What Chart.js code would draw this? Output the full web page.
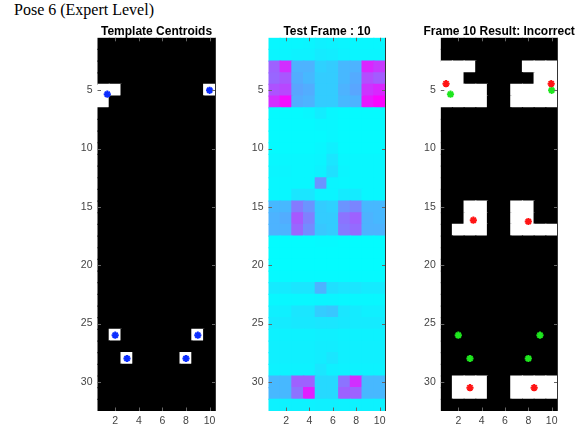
<!DOCTYPE html>
<html>
<head>
<meta charset="utf-8">
<script src="https://cdn.jsdelivr.net/npm/chart.js@4.4.1/dist/chart.umd.min.js"></script>
<style>
  body { margin: 0; background: #fff; width: 575px; height: 429px; position: relative; overflow: hidden; }
  #sup { position: absolute; left: 14px; top: 2px; font: 16px "Liberation Serif", "Times New Roman", serif; color: #000; white-space: nowrap; line-height: 16px; }
  canvas { position: absolute; top: 0; }
</style>
</head>
<body>
<div id="sup">Pose 6 (Expert Level)</div>
<canvas id="c1" width="160" height="429" style="left:62px"></canvas>
<canvas id="c2" width="160" height="429" style="left:233px"></canvas>
<canvas id="c3" width="170" height="429" style="left:405px"></canvas>
<script>
// grid is 32 rows x 10 columns
const colIndex = [1, 2, 3, 4, 5, 6, 7, 8, 9, 10];
const rowIndex = [1, 2, 3, 4, 5, 6, 7, 8, 9, 10, 11, 12, 13, 14, 15, 16,
                  17, 18, 19, 20, 21, 22, 23, 24, 25, 26, 27, 28, 29, 30, 31, 32];
const xTicks = [2, 4, 6, 8, 10];
const yTicks = [5, 10, 15, 20, 25, 30];

const titles = ["Template Centroids", "Test Frame : 10", "Frame 10 Result: Incorrect"];

// binary template image (1 = white)
const templateMask = [
  "0000000000", "0000000000", "0000000000", "0000000000", "1100000001",
  "1000000000", "0000000000", "0000000000", "0000000000", "0000000000",
  "0000000000", "0000000000", "0000000000", "0000000000", "0000000000",
  "0000000000", "0000000000", "0000000000", "0000000000", "0000000000",
  "0000000000", "0000000000", "0000000000", "0000000000", "0000000000",
  "0100000010", "0000000000", "0010000100", "0000000000", "0000000000",
  "0000000000", "0000000000"
];

// test frame intensities, 0 = cyan .. 1 = magenta (cool colormap)
const testFrame = [
  [0.03, 0.03, 0.03, 0.04, 0.06, 0.05, 0.04, 0.03, 0.03, 0.03],
  [0.04, 0.04, 0.05, 0.05, 0.08, 0.07, 0.05, 0.04, 0.04, 0.04],
  [0.62, 0.82, 0.30, 0.30, 0.18, 0.20, 0.28, 0.30, 0.85, 0.78],
  [0.60, 0.66, 0.32, 0.28, 0.20, 0.20, 0.28, 0.33, 0.70, 0.64],
  [0.68, 0.72, 0.35, 0.32, 0.20, 0.20, 0.30, 0.35, 0.80, 0.85],
  [0.82, 0.95, 0.32, 0.30, 0.20, 0.20, 0.28, 0.30, 0.90, 0.98],
  [0.02, 0.02, 0.02, 0.03, 0.07, 0.03, 0.02, 0.02, 0.02, 0.02],
  [0.02, 0.02, 0.02, 0.02, 0.03, 0.03, 0.02, 0.02, 0.02, 0.02],
  [0.02, 0.02, 0.02, 0.02, 0.02, 0.03, 0.02, 0.02, 0.02, 0.02],
  [0.02, 0.02, 0.02, 0.02, 0.03, 0.06, 0.02, 0.02, 0.02, 0.02],
  [0.03, 0.03, 0.03, 0.03, 0.04, 0.10, 0.03, 0.03, 0.03, 0.03],
  [0.04, 0.04, 0.03, 0.03, 0.05, 0.12, 0.04, 0.03, 0.03, 0.03],
  [0.03, 0.03, 0.03, 0.03, 0.42, 0.04, 0.03, 0.03, 0.03, 0.03],
  [0.03, 0.03, 0.10, 0.10, 0.04, 0.04, 0.08, 0.08, 0.03, 0.03],
  [0.28, 0.28, 0.52, 0.42, 0.20, 0.18, 0.42, 0.48, 0.28, 0.28],
  [0.30, 0.32, 0.65, 0.50, 0.20, 0.20, 0.55, 0.62, 0.30, 0.28],
  [0.30, 0.30, 0.60, 0.45, 0.22, 0.20, 0.52, 0.58, 0.30, 0.30],
  [0.01, 0.01, 0.01, 0.01, 0.02, 0.02, 0.01, 0.01, 0.01, 0.01],
  [0.01, 0.01, 0.01, 0.01, 0.01, 0.01, 0.01, 0.01, 0.01, 0.01],
  [0.01, 0.01, 0.01, 0.01, 0.01, 0.01, 0.01, 0.01, 0.01, 0.01],
  [0.02, 0.02, 0.02, 0.02, 0.02, 0.02, 0.02, 0.02, 0.02, 0.02],
  [0.08, 0.08, 0.10, 0.10, 0.30, 0.12, 0.10, 0.10, 0.08, 0.08],
  [0.03, 0.03, 0.03, 0.03, 0.04, 0.04, 0.03, 0.03, 0.03, 0.03],
  [0.06, 0.06, 0.10, 0.10, 0.20, 0.22, 0.10, 0.08, 0.06, 0.06],
  [0.08, 0.08, 0.09, 0.09, 0.10, 0.10, 0.09, 0.08, 0.08, 0.08],
  [0.05, 0.05, 0.05, 0.05, 0.06, 0.06, 0.05, 0.05, 0.05, 0.05],
  [0.06, 0.06, 0.06, 0.06, 0.07, 0.07, 0.06, 0.06, 0.06, 0.06],
  [0.06, 0.06, 0.06, 0.06, 0.07, 0.10, 0.06, 0.06, 0.06, 0.06],
  [0.05, 0.05, 0.05, 0.05, 0.10, 0.06, 0.05, 0.05, 0.05, 0.05],
  [0.28, 0.28, 0.62, 0.62, 0.15, 0.15, 0.55, 0.82, 0.28, 0.28],
  [0.28, 0.28, 0.55, 0.88, 0.15, 0.15, 0.62, 0.62, 0.28, 0.28],
  [0.05, 0.05, 0.05, 0.05, 0.06, 0.06, 0.05, 0.05, 0.05, 0.05]
];

// binary result image for frame 10
const resultMask = [
  "0000000000", "0000000000", "1110000111", "1100000011", "1111001111",
  "1111001111", "0000000000", "0000000000", "0000000000", "0000000000",
  "0000000000", "0000000000", "0000000000", "0000000000", "0011001100",
  "0011001100", "0111001111", "0000000000", "0000000000", "0000000000",
  "0000000000", "0000000000", "0000000000", "0000000000", "0000000000",
  "0000000000", "0000000000", "0000000000", "0000000000", "0111001111",
  "0111001111", "0000000000"
];

const templateCentroidX = [1.33, 10, 2, 3, 8, 9];
const templateCentroidY = [5.33, 5, 26, 28, 28, 26];
const frameCentroidX = [0.95, 9.96, 3.29, 8, 3, 8.5];
const frameCentroidY = [4.43, 4.43, 16.14, 16.25, 30.5, 30.5];

function coolColor(v) {
  return `rgb(${Math.round(255 * v)},${Math.round(255 * (1 - v))},255)`;
}

// one floating bar per image cell
function cellDataset(colorAt) {
  const data = [], colors = [];
  rowIndex.forEach((r, i) => {
    colIndex.forEach((c, j) => {
      data.push({ x: c, y: [r - 0.5, r + 0.5] });
      colors.push(colorAt(i, j));
    });
  });
  return {
    type: "bar", data, backgroundColor: colors, borderWidth: 0, inflateAmount: 0.6,
    barPercentage: 1, categoryPercentage: 1, order: 2
  };
}

function starDataset(xs, ys, color) {
  return {
    type: "scatter",
    data: xs.map((x, i) => ({ x, y: ys[i] })),
    pointStyle: "star", radius: 3.6, borderWidth: 2,
    borderColor: color, backgroundColor: color, order: 0
  };
}

// matlab-like inside ticks, right edge and panel title
const panelDecor = {
  id: "panelDecor",
  afterDatasetsDraw(chart, args, opts) {
    const { ctx, chartArea: a, scales: { x, y } } = chart;
    ctx.save();
    ctx.strokeStyle = "#666";
    ctx.lineWidth = 1;
    ctx.beginPath();
    x.ticks.forEach(t => {
      const px = Math.round(x.getPixelForValue(t.value)) + 0.5;
      ctx.moveTo(px, a.bottom); ctx.lineTo(px, a.bottom - 3.5);
      ctx.moveTo(px, a.top); ctx.lineTo(px, a.top + 3.5);
    });
    y.ticks.forEach(t => {
      const py = Math.round(y.getPixelForValue(t.value)) + 0.5;
      ctx.moveTo(a.left, py); ctx.lineTo(a.left + 3.5, py);
      ctx.moveTo(a.right, py); ctx.lineTo(a.right - 3.5, py);
    });
    ctx.stroke();
    ctx.strokeStyle = "#333";
    ctx.beginPath();
    ctx.moveTo(a.right, a.top); ctx.lineTo(a.right, a.bottom);
    ctx.stroke();
    ctx.fillStyle = "#000";
    ctx.font = 'bold 12px "Liberation Sans", Arial, sans-serif';
    ctx.textAlign = "center";
    ctx.textBaseline = "alphabetic";
    ctx.fillText(opts.title, (a.left + a.right) / 2, a.top - 3);
    ctx.restore();
  }
};

function makePanel(id, title, datasets, yAxisWidth, padRight) {
  const tickFont = { family: '"Liberation Sans", Arial, sans-serif', size: 10.5 };
  return new Chart(document.getElementById(id), {
    type: "bar",
    data: { datasets },
    options: {
      responsive: false,
      animation: false,
      layout: { padding: { top: 37.8, right: padRight, left: 0, bottom: 0 } },
      plugins: { legend: { display: false }, tooltip: { enabled: false }, panelDecor: { title } },
      scales: {
        x: {
          type: "linear", min: 0.5, max: 10.5, offset: false,
          grid: { display: false, drawTicks: false }, border: { display: false },
          afterBuildTicks: s => { s.ticks = xTicks.map(v => ({ value: v })); },
          afterFit: s => { s.height = 18; },
          ticks: { color: "#444", font: tickFont, padding: 4, maxRotation: 0 }
        },
        y: {
          type: "linear", reverse: true, min: 0.5, max: 32.5, stacked: false,
          grid: { display: false, drawTicks: false }, border: { display: false },
          afterBuildTicks: s => { s.ticks = yTicks.map(v => ({ value: v })); },
          afterFit: s => { s.width = yAxisWidth; },
          ticks: { color: "#444", font: tickFont, padding: 5 }
        }
      }
    },
    plugins: [panelDecor]
  });
}

makePanel("c1", titles[0], [
  cellDataset((i, j) => templateMask[i][j] === "1" ? "#fff" : "#000"),
  starDataset(templateCentroidX, templateCentroidY, "#0b2dff")
], 35.5, 6.5);

makePanel("c2", titles[1], [
  cellDataset((i, j) => coolColor(testFrame[i][j]))
], 35.5, 7.5);

makePanel("c3", titles[2], [
  cellDataset((i, j) => resultMask[i][j] === "1" ? "#fff" : "#000"),
  starDataset(frameCentroidX, frameCentroidY, "#ff1414"),
  starDataset(templateCentroidX, templateCentroidY, "#1ee61e")
], 35.8, 17.5);
</script>
</body>
</html>
